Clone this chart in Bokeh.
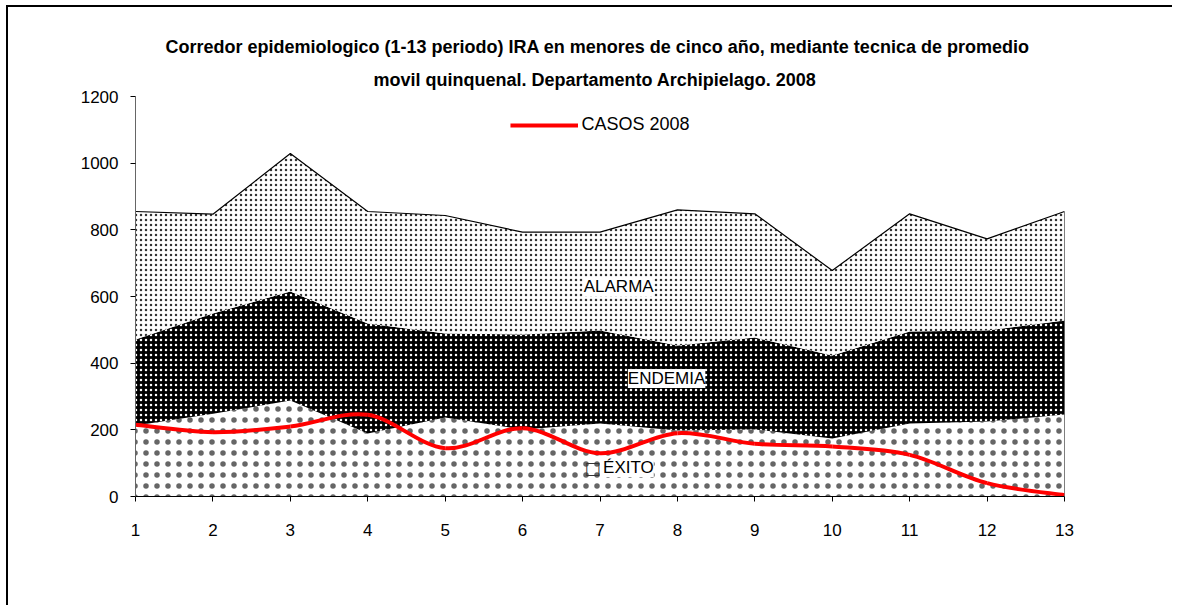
import numpy as np
from bokeh.plotting import figure
from bokeh.models import Label, Legend, LegendItem, Title, Range1d, InlineStyleSheet
from bokeh.embed import file_html
from bokeh.resources import INLINE

# ---- data ----
periods = [1, 2, 3, 4, 5, 6, 7, 8, 9, 10, 11, 12, 13]
exito_top = [213, 248, 288, 189, 237, 201, 219, 198, 201, 174, 219, 225, 246]
endemia_top = [471, 549, 615, 519, 489, 486, 498, 453, 477, 423, 495, 498, 528]
alarma_top = [855, 847, 1029, 855, 843, 793, 793, 860, 848, 678, 848, 773, 855]
casos_2008 = [215, 193, 210, 245, 145, 205, 130, 190, 158, 150, 125, 40, 4]
y_ticks = [0, 200, 400, 600, 800, 1000, 1200]
title_line1 = "Corredor epidemiologico (1-13 periodo) IRA en menores de cinco año,  mediante tecnica de promedio"
title_line2 = "movil quinquenal.  Departamento Archipielago.  2008"

SANS = "Liberation Sans"

p = figure(width=1166, height=600, output_backend="svg", toolbar_location=None,
           x_range=Range1d(1, 13), y_range=Range1d(0, 1200),
           min_border_left=127, min_border_right=110, min_border_top=89, min_border_bottom=111)
p.stylesheets = [InlineStyleSheet(css=":host { box-shadow: -2px -2px 0 0 black; position: relative; left: 8px; top: 7px; }")]
p.xgrid.visible = False
p.ygrid.visible = False
p.outline_line_color = None

# ---- areas ----
p.varea(x=periods, y1=0, y2=exito_top, fill_color="white",
        hatch_pattern="dot", hatch_color="black", hatch_scale=11, hatch_weight=0.0,
        hatch_alpha=0.6)
p.varea(x=periods, y1=exito_top, y2=endemia_top, fill_color="black",
        hatch_pattern="dot", hatch_color="white", hatch_scale=5, hatch_weight=2.0)
p.varea(x=periods, y1=endemia_top, y2=alarma_top, fill_color="white",
        hatch_pattern="dot", hatch_color="#333333", hatch_scale=5, hatch_weight=1.2)
p.line(x=periods, y=alarma_top, line_color="black", line_width=1.2)
p.segment(x0=[periods[-1]], y0=[0], x1=[periods[-1]], y1=[alarma_top[-1]],
          line_color="black", line_width=1)

# ---- smoothed line (Catmull-Rom as bezier) ----
xs = np.array(periods, dtype=float)
ys = np.array(casos_2008, dtype=float)
xp = np.concatenate([[xs[0]], xs, [xs[-1]]])
yp = np.concatenate([[ys[0]], ys, [ys[-1]]])
n = len(xs) - 1
cx0 = xp[1:n + 1] + (xp[2:n + 2] - xp[0:n]) / 6
cy0 = yp[1:n + 1] + (yp[2:n + 2] - yp[0:n]) / 6
cx1 = xp[2:n + 2] - (xp[3:n + 3] - xp[1:n + 1]) / 6
cy1 = yp[2:n + 2] - (yp[3:n + 3] - yp[1:n + 1]) / 6
casos_r = p.bezier(x0=xs[:-1], y0=ys[:-1], x1=xs[1:], y1=ys[1:],
                   cx0=cx0, cy0=cy0, cx1=cx1, cy1=cy1, line_color="red", line_width=4)

legend = Legend(items=[LegendItem(label="CASOS 2008", renderers=[casos_r], index=0)],
                location="top_center", border_line_color=None, background_fill_alpha=0,
                glyph_width=68, label_text_font=SANS, label_text_font_size="18px",
                label_text_color="black", margin=18, padding=6, label_standoff=4)
p.add_layout(legend)

# ---- axes ----
for ax in (p.xaxis, p.yaxis):
    ax.major_tick_in = 0
    ax.major_tick_out = 5
    ax.minor_tick_out = 0
    ax.minor_tick_in = 0
    ax.axis_line_color = "black"
    ax.major_tick_line_color = "black"
    ax.major_label_text_font = SANS
    ax.major_label_text_font_size = "17px"
    ax.major_label_text_color = "black"
p.xaxis.ticker = periods
p.yaxis.ticker = y_ticks
p.xaxis.major_label_standoff = 22
p.yaxis.major_label_standoff = 12
p.yaxis.axis_line_color = "#666666"

# ---- titles ----
p.add_layout(Title(text=title_line2, align="center", text_font=SANS, text_font_size="18px",
                   text_font_style="bold", text_color="black", standoff=13), "above")
p.add_layout(Title(text=title_line1, align="center", text_font=SANS, text_font_size="18px",
                   text_font_style="bold", text_color="black", standoff=9), "above")

# ---- zone labels ----
common = dict(text_font=SANS, text_font_size="17px", text_baseline="middle",
              text_align="left", background_fill_color="white", text_color="black")
p.add_layout(Label(x=6.79, y=630, text="ALARMA", **common))
p.add_layout(Label(x=7.36, y=354, text="ENDEMIA", **common))
p.add_layout(Label(x=7.04, y=87, text="ÉXITO", **common))
p.add_layout(Label(x=6.80, y=87, text="□", text_font="DejaVu Sans", text_font_size="17px",
                   text_baseline="middle", text_align="left", text_color="#333333"))

open("out.html", "w").write(file_html(p, INLINE))
